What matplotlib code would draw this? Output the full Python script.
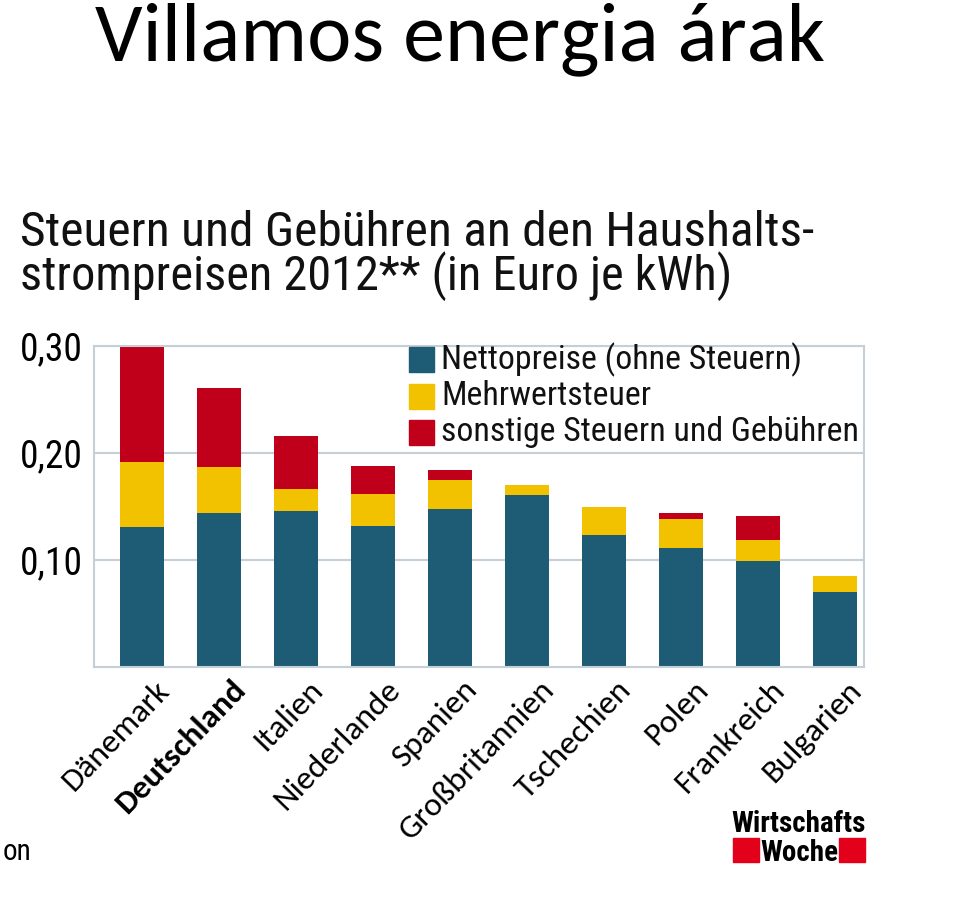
import matplotlib
matplotlib.use('Agg')
import matplotlib.pyplot as plt
from matplotlib import font_manager
from matplotlib.patches import Rectangle
import numpy as np

# --- data (Euro je kWh, 2012) ---
countries = ['Dänemark', 'Deutschland', 'Italien', 'Niederlande', 'Spanien',
             'Großbritannien', 'Tschechien', 'Polen', 'Frankreich', 'Bulgarien']
netto = [0.131, 0.144, 0.146, 0.132, 0.148, 0.161, 0.123, 0.111, 0.099, 0.070]
mwst = [0.061, 0.043, 0.020, 0.030, 0.027, 0.009, 0.027, 0.027, 0.020, 0.015]
sonstige = [0.109, 0.074, 0.050, 0.026, 0.009, 0.000, 0.000, 0.006, 0.022, 0.000]
series_names = ['Nettopreise (ohne Steuern)', 'Mehrwertsteuer',
                'sonstige Steuern und Gebühren']
yticks = [0.10, 0.20, 0.30]
ytick_labels = ['0,10', '0,20', '0,30']

BLUE = '#1e5b75'
YELLOW = '#f2c200'
RED = '#c0001b'
GRID = '#c5cfd8'


def pick(names, fallback='DejaVu Sans'):
    for n in names:
        try:
            font_manager.findfont(font_manager.FontProperties(family=n),
                                  fallback_to_default=False)
            return n
        except ValueError:
            pass
    return fallback


NARROW = pick(['Roboto Condensed', 'Liberation Sans Narrow', 'Open Sans Condensed'])
SLIDE = pick(['Carlito', 'Calibri', 'Lato'])
W, H = 960, 899


def fx(px):
    return px / W


def fy(py):
    return 1 - py / H


fig = plt.figure(figsize=(W / 100, H / 100), dpi=100)
fig.patch.set_facecolor('white')


def fit_text(x, y, s, width_px, **kw):
    # scale font size so the rendered text spans width_px
    t = fig.text(x, y, s, **kw)
    r = fig.canvas.get_renderer()
    w = t.get_window_extent(r).width
    t.set_fontsize(t.get_fontsize() * width_px / w)
    return t


# slide title
fit_text(fx(95), fy(60), 'Villamos energia árak', 730, family=SLIDE,
         fontsize=55, va='baseline', ha='left', color='black')

# chart title
fit_text(fx(20), fy(246), 'Steuern und Gebühren an den Haushalts-', 795,
         family=NARROW, stretch='condensed', fontsize=30, va='baseline', color='#111111')
fit_text(fx(20), fy(290), 'strompreisen 2012** (in Euro je kWh)', 712,
         family=NARROW, stretch='condensed', fontsize=30, va='baseline', color='#111111')

ax = fig.add_axes([fx(94), fy(667), fx(864) - fx(94), fy(346) - fy(667)])
x = np.arange(len(countries))
bw = 0.57
netto = np.array(netto)
mwst = np.array(mwst)
sonstige = np.array(sonstige)
ax.bar(x, netto, bw, color=BLUE, zorder=2)
ax.bar(x, mwst, bw, bottom=netto, color=YELLOW, zorder=2)
ax.bar(x, sonstige, bw, bottom=netto + mwst, color=RED, zorder=2)

ax.set_xlim(-0.62, len(countries) - 1 + 0.38)
ax.set_ylim(0, 0.30)
ax.set_yticks(yticks)
ax.set_yticklabels(ytick_labels, family=NARROW, stretch='condensed', fontsize=27)
ax.tick_params(axis='y', length=0, pad=8)
ax.set_xticks([])
ax.grid(axis='y', color=GRID, linewidth=1.5, zorder=0)
for sp in ax.spines.values():
    sp.set_color(GRID)
    sp.set_linewidth(1.5)

# legend (manual, top right inside the plot)
for i, (name, col) in enumerate(zip(series_names, [BLUE, YELLOW, RED])):
    top = 347 + i * 36.5
    fig.patches.append(Rectangle((fx(409), fy(top + 25)), fx(25), 25 / H,
                                 transform=fig.transFigure, color=col))
    fig.text(fx(441), fy(top + 12.5), name, family=NARROW, stretch='condensed',
             fontsize=24.3, va='center', ha='left', color='#111111')

# country labels
xtr = ax.get_xaxis_transform()
for i, c in enumerate(countries):
    ax.text(i + 0.16, -0.025, c, transform=xtr, rotation=46, rotation_mode='anchor',
            ha='right', va='top', fontsize=24,
            fontweight='bold' if c == 'Deutschland' else 'normal',
            family=SLIDE, color='black', clip_on=False)

# source logo
fig.text(fx(799), fy(832), 'Wirtschafts', family=NARROW, stretch='condensed',
         fontweight='bold', fontsize=21, ha='center', va='baseline', color='black')
fig.text(fx(799), fy(861), 'Woche', family=NARROW, stretch='condensed',
         fontweight='bold', fontsize=21, ha='center', va='baseline', color='black')
for x0 in (733, 839):
    fig.patches.append(Rectangle((fx(x0), fy(862)), fx(26), 24 / H,
                                 transform=fig.transFigure, color='#e2001a'))

fig.text(fx(3), fy(860), 'on', family=NARROW, stretch='condensed', fontsize=21,
         ha='left', va='baseline', color='black')

fig.savefig('out.png', dpi=100)
